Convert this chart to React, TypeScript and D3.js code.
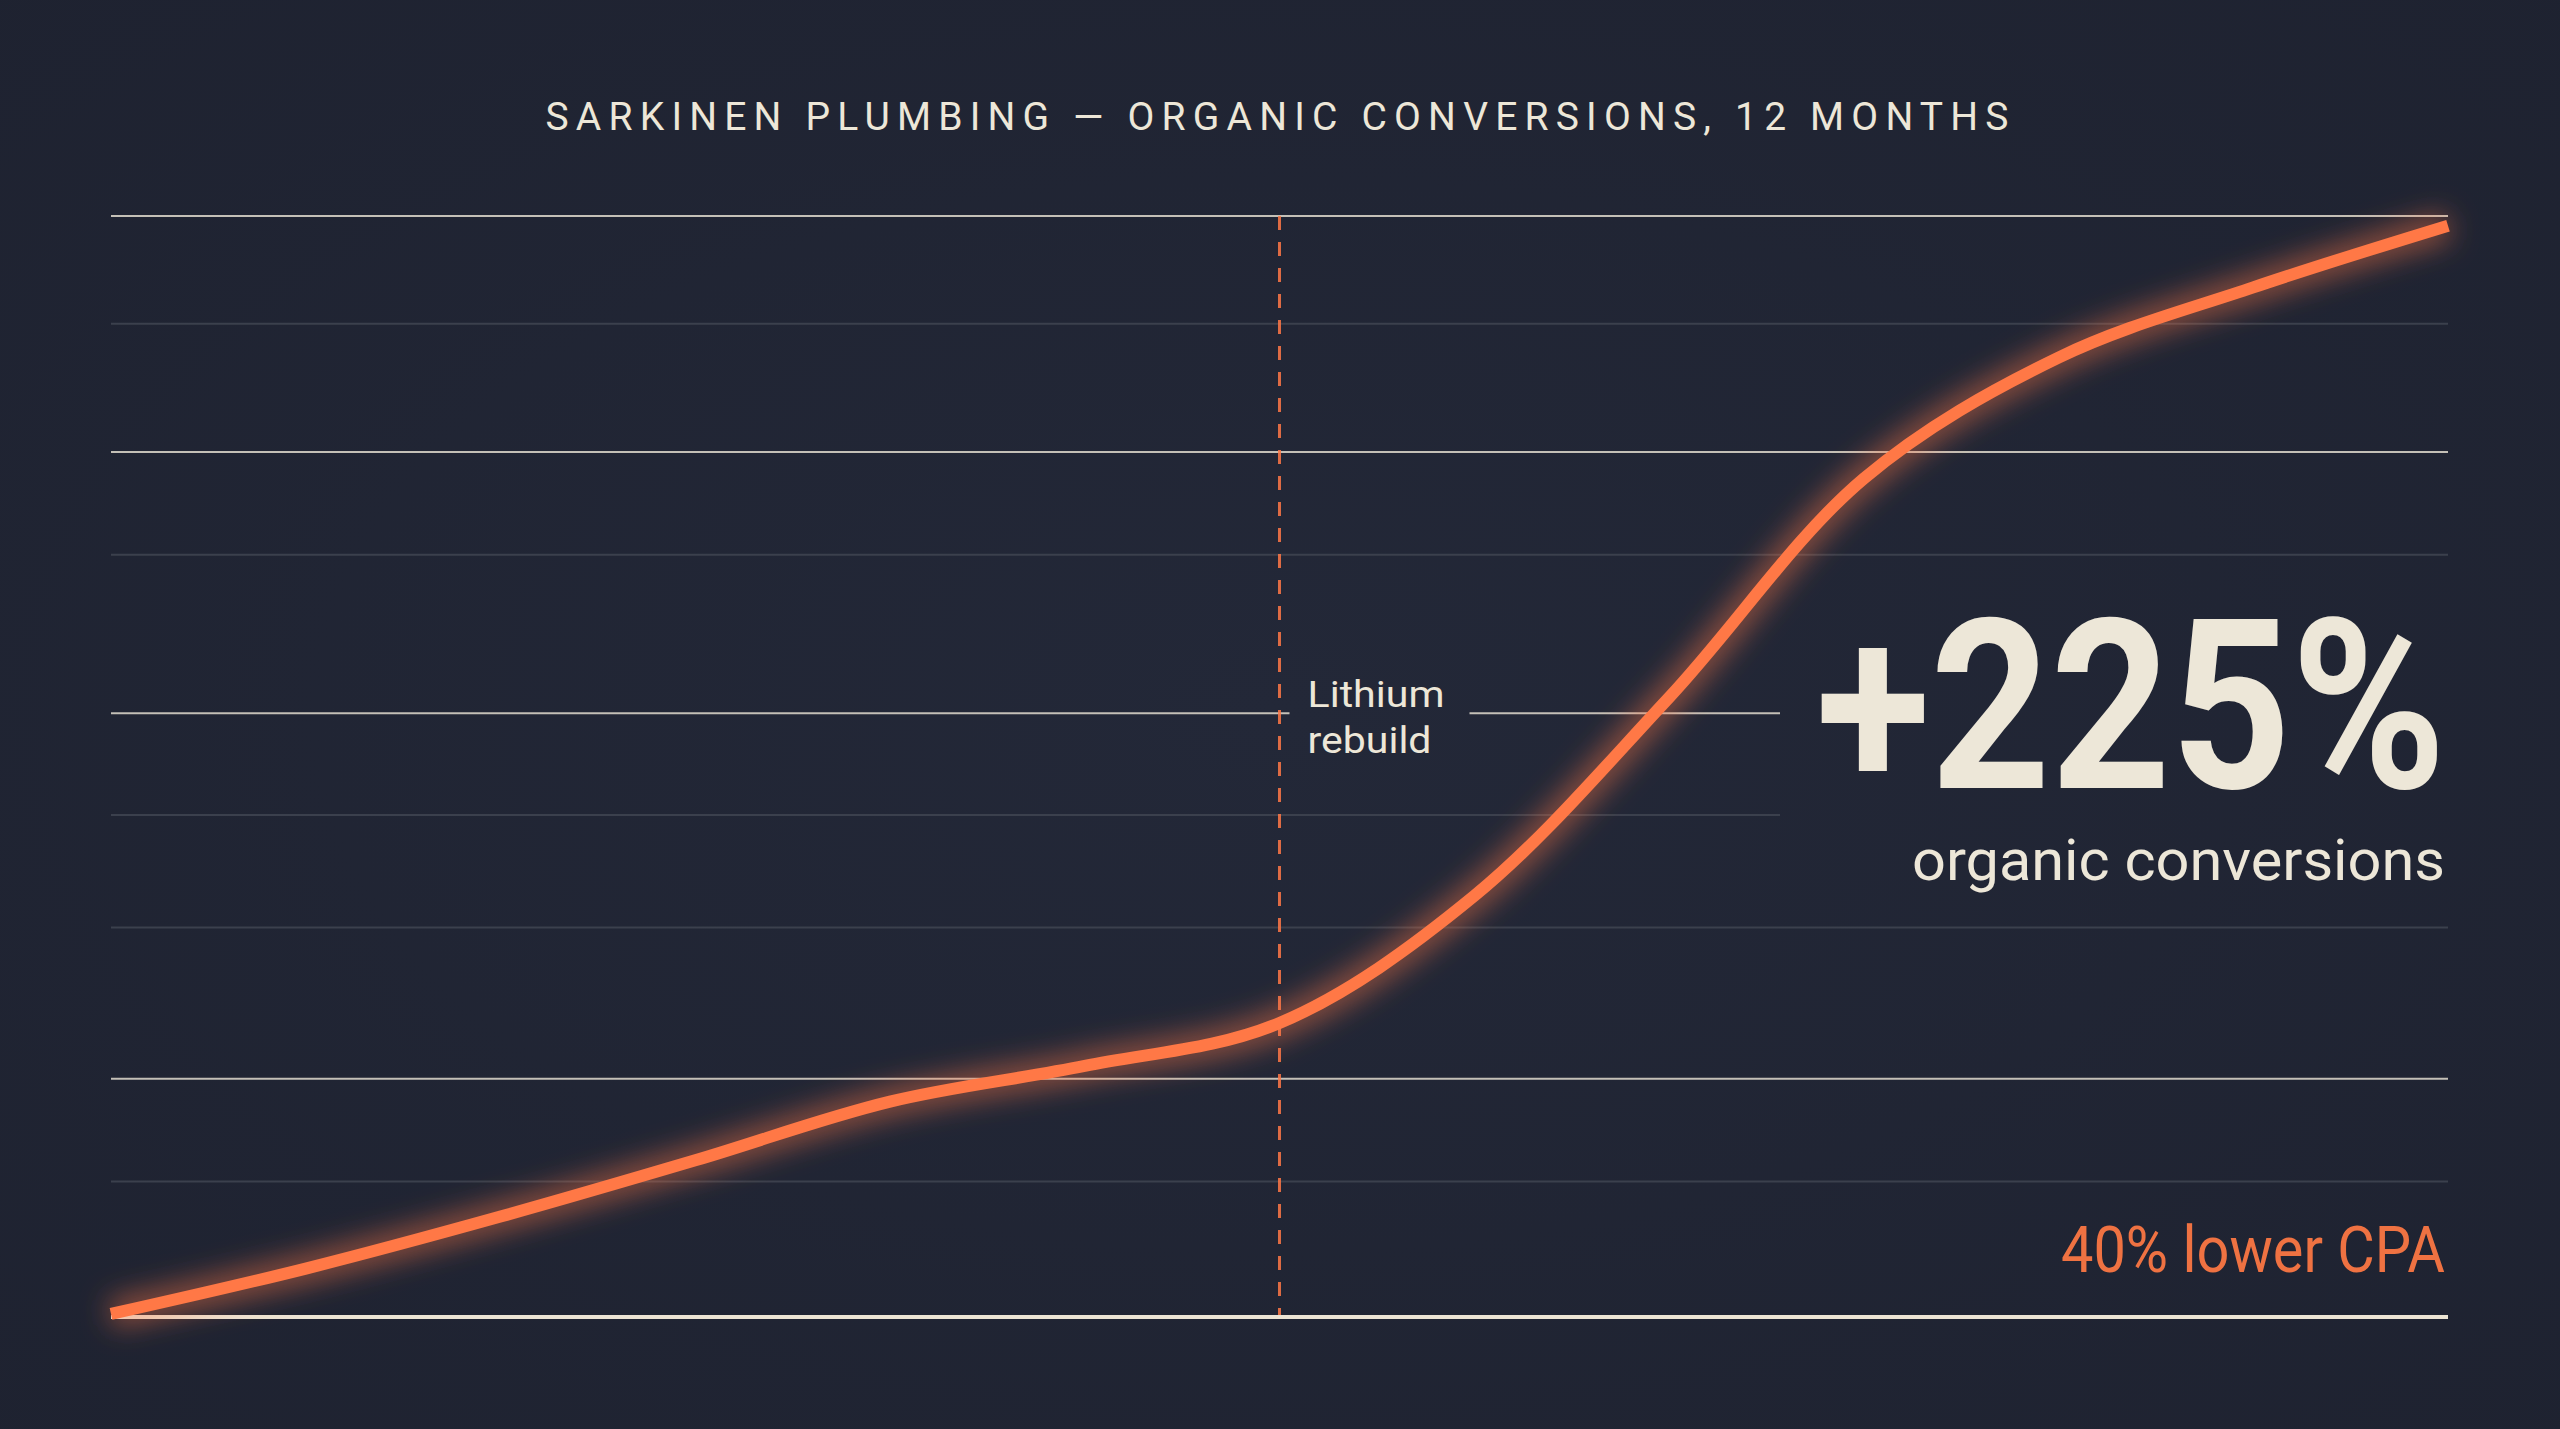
import React from 'react'
import * as d3 from 'd3'

// month index 0..12, conversions (indexed)
const months = [0, 1, 2, 3, 4, 5, 6, 7, 8, 9, 10, 11, 12]
const conversions = [40.25, 44.0, 48.3, 52.95, 57.8, 60.75, 64.3, 74.8, 91.2, 109.3, 119.3, 125.1, 130.2]

// horizontal rules
const majorGrid = [131, 111.5, 59.7]
const minorGrid = [122.1, 103, 72.2, 51.2]
const splitMajor = 89.9 // the rule broken by the annotation
const splitMinor = 81.5 // the rule that stops short of the headline
const baselineValue = 40

const annotationMonth = 6
const annotationLines = ['Lithium', 'rebuild']
const title = 'SARKINEN PLUMBING — ORGANIC CONVERSIONS, 12 MONTHS'
const headline = '+225%'
const subhead = 'organic conversions'
const footnote = '40% lower CPA'

const W = 2560
const H = 1429
const CREAM = '#ede7d8'
const ORANGE = '#ff7846'

export default function App() {
  const x = d3.scaleLinear().domain([0, 12]).range([111, 2448])
  const y = d3.scaleLinear().domain([baselineValue, 131]).range([1317, 216])

  const line = d3
    .line<number>()
    .x((_d, i) => x(months[i]))
    .y((d) => y(d))
    .curve(d3.curveCatmullRom.alpha(0.5))
  const path = line(conversions) ?? ''

  const ax = x(annotationMonth)
  const labelX = ax + 28
  const gapEnd = ax + 190
  const shortEnd = 1780
  const [x0, x1] = x.range()

  const sans = 'Roboto, "Liberation Sans", sans-serif'

  return (
    <svg
      width={W}
      height={H}
      viewBox={`0 0 ${W} ${H}`}
      style={{ position: 'absolute', left: 0, top: 0, display: 'block' }}
    >
      <defs>
        <radialGradient id="bg" cx="50%" cy="50%" r="75%">
          <stop offset="0%" stopColor="#232838" />
          <stop offset="100%" stopColor="#1e2230" />
        </radialGradient>
        <filter id="glow" x="-10%" y="-10%" width="120%" height="120%">
          <feGaussianBlur stdDeviation="14" />
        </filter>
      </defs>
      <rect width={W} height={H} fill="url(#bg)" />

      <text
        x={W / 2}
        y={130}
        textAnchor="middle"
        fill={CREAM}
        fontFamily={sans}
        fontSize={39}
        letterSpacing={6}
        textLength={1469}
        lengthAdjust="spacing"
      >
        {title}
      </text>

      {/* minor rules */}
      {minorGrid.map((v) => (
        <line key={'mi' + v} x1={x0} x2={x1} y1={y(v)} y2={y(v)} stroke="#3b404d" strokeWidth={2} />
      ))}
      <line x1={x0} x2={shortEnd} y1={y(splitMinor)} y2={y(splitMinor)} stroke="#3b404d" strokeWidth={2} />

      {/* major rules */}
      {majorGrid.map((v) => (
        <line key={'ma' + v} x1={x0} x2={x1} y1={y(v)} y2={y(v)} stroke={CREAM} strokeOpacity={0.8} strokeWidth={2} />
      ))}
      <line x1={x0} x2={ax + 10} y1={y(splitMajor)} y2={y(splitMajor)} stroke={CREAM} strokeOpacity={0.8} strokeWidth={2} />
      <line x1={gapEnd} x2={shortEnd} y1={y(splitMajor)} y2={y(splitMajor)} stroke={CREAM} strokeOpacity={0.8} strokeWidth={2} />

      {/* annotation */}
      <line
        x1={ax}
        x2={ax}
        y1={y(131)}
        y2={y(baselineValue)}
        stroke={ORANGE}
        strokeOpacity={0.85}
        strokeWidth={3}
        strokeDasharray="14 12"
      />
      {annotationLines.map((t, i) => (
        <text
          key={t}
          x={labelX}
          y={707 + i * 46}
          fill={CREAM}
          fontFamily={sans}
          fontSize={37}
          textLength={i === 0 ? 137 : 124}
          lengthAdjust="spacingAndGlyphs"
        >
          {t}
        </text>
      ))}

      {/* baseline */}
      <line x1={x0} x2={x1} y1={y(baselineValue)} y2={y(baselineValue)} stroke="#ece4d4" strokeWidth={4} />

      {/* series */}
      <path d={path} fill="none" stroke={ORANGE} strokeWidth={28} strokeOpacity={0.5} filter="url(#glow)" />
      <path d={path} fill="none" stroke={ORANGE} strokeWidth={12} />

      {/* callouts */}
      <text
        x={2446}
        y={788}
        textAnchor="end"
        fill={CREAM}
        fontFamily={sans}
        fontWeight={700}
        fontSize={238}
        textLength={630}
        lengthAdjust="spacingAndGlyphs"
      >
        {headline}
      </text>
      <text
        x={2445}
        y={880}
        textAnchor="end"
        fill={CREAM}
        fontFamily={sans}
        fontSize={58}
        textLength={533}
        lengthAdjust="spacingAndGlyphs"
      >
        {subhead}
      </text>
      <text
        x={2445}
        y={1272}
        textAnchor="end"
        fill="#ef7242"
        fontFamily={sans}
        fontSize={65}
        textLength={384}
        lengthAdjust="spacingAndGlyphs"
      >
        {footnote}
      </text>
    </svg>
  )
}
